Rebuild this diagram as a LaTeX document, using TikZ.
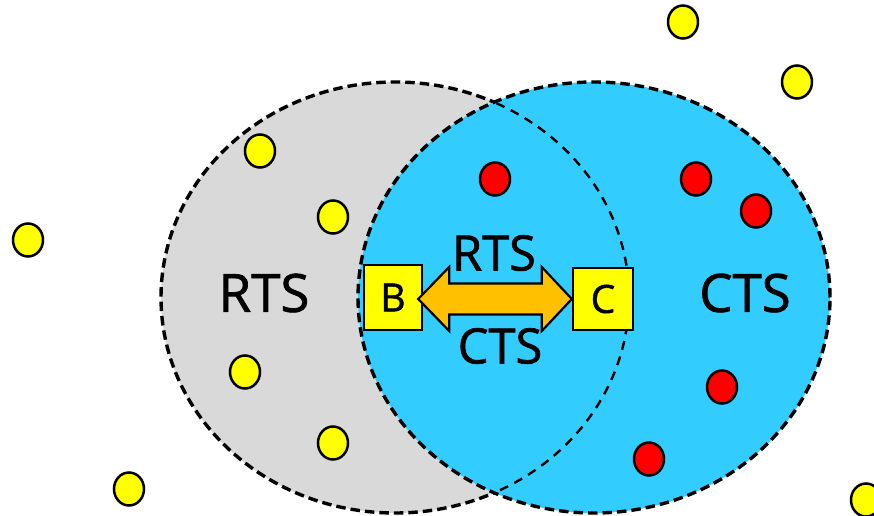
\documentclass[tikz,border=0pt]{standalone}
\usepackage{fontspec}
\setmainfont{Open Sans}
\newfontfamily\lblfont{Open Sans}[FakeBold=1.3]
\usetikzlibrary{shapes.geometric,calc}
\definecolor{cgray}{HTML}{D9D9D9}
\definecolor{cblue}{HTML}{33CCFF}
\definecolor{cyel}{HTML}{FFFF00}
\definecolor{cred}{HTML}{FF0000}
\definecolor{corange}{HTML}{FFC000}
\tikzset{
  thickdash/.style={line width=3.4bp, dash pattern=on 9.5bp off 5bp},
  thindash/.style={line width=2.4bp, dash pattern=on 9bp off 7bp},
  dot/.style={ellipse, draw=black, line width=2.5bp, minimum width=30bp, minimum height=33bp, inner sep=0pt},
  ydot/.style={dot, fill=cyel},
  rdot/.style={dot, fill=cred},
  station/.style={draw=black, line width=2.4bp, fill=cyel, inner sep=0pt, font=\lblfont\fontsize{39}{44}\selectfont},
  biglabel/.style={inner sep=0pt, font=\lblfont\fontsize{53}{60}\selectfont},
  midlabel/.style={inner sep=0pt, font=\lblfont\fontsize{49}{56}\selectfont},
}
\begin{document}
\begin{tikzpicture}[x=1bp,y=-1bp]
\useasboundingbox (0,0) rectangle (874,516);
% ranges
\fill[cgray] (395,297.5) ellipse [x radius=234bp, y radius=215.5bp];
\draw[thickdash] (395,297.5) ellipse [x radius=234bp, y radius=215.5bp];
\fill[cblue] (594,297.5) ellipse [x radius=236bp, y radius=215.5bp];
\draw[thickdash] (594,297.5) ellipse [x radius=236bp, y radius=215.5bp];
\begin{scope}
  \clip (594,297.5) ellipse [x radius=234bp, y radius=213.5bp];
  \draw[thindash] (395,297.5) ellipse [x radius=234bp, y radius=215.5bp];
\end{scope}
% labels
\node[biglabel] (rtsl) at (264,293) {RTS};
\node[biglabel] (ctsl) at (745,293) {CTS};
% yellow dots
\node[ydot] (y1) at (683,22) {};
\node[ydot] (y2) at (797,82) {};
\node[ydot] (y3) at (260,151) {};
\node[ydot] (y4) at (333,217) {};
\node[ydot] (y5) at (28,240) {};
\node[ydot] (y6) at (245,372) {};
\node[ydot] (y7) at (333,443) {};
\node[ydot] (y8) at (129,489) {};
\node[ydot] (y9) at (866,500) {};
% red dots
\node[rdot] (r1) at (495,179) {};
\node[rdot] (r2) at (696,179) {};
\node[rdot] (r3) at (756,211) {};
\node[rdot] (r4) at (722,387) {};
\node[rdot] (r5) at (649,459) {};
% stations
\node[station, minimum width=58bp, minimum height=65bp] (B) at (393,297.5) {B};
\node[station, minimum width=60bp, minimum height=62bp] (C) at (603,299) {C};
% double arrow
\coordinate (lt) at ($(B.east)+(-5,1.5)$);
\coordinate (rt) at (C.west);
\draw[line width=2.2bp, fill=corange, line join=miter]
  (lt) -- ++(31,-32) -- ++(0,16.5) -- ($(rt)+(-30,-15.5)$) -- ++(0,-16.5) -- (rt)
  -- ++(-30,32) -- ++(0,-16.5) -- ($(lt)+(31,15.5)$) -- ++(0,16.5) -- cycle;
\node[midlabel] (rtsm) at (494,253) {RTS};
\node[midlabel] (ctsm) at (500,346) {CTS};
\end{tikzpicture}
\end{document}
